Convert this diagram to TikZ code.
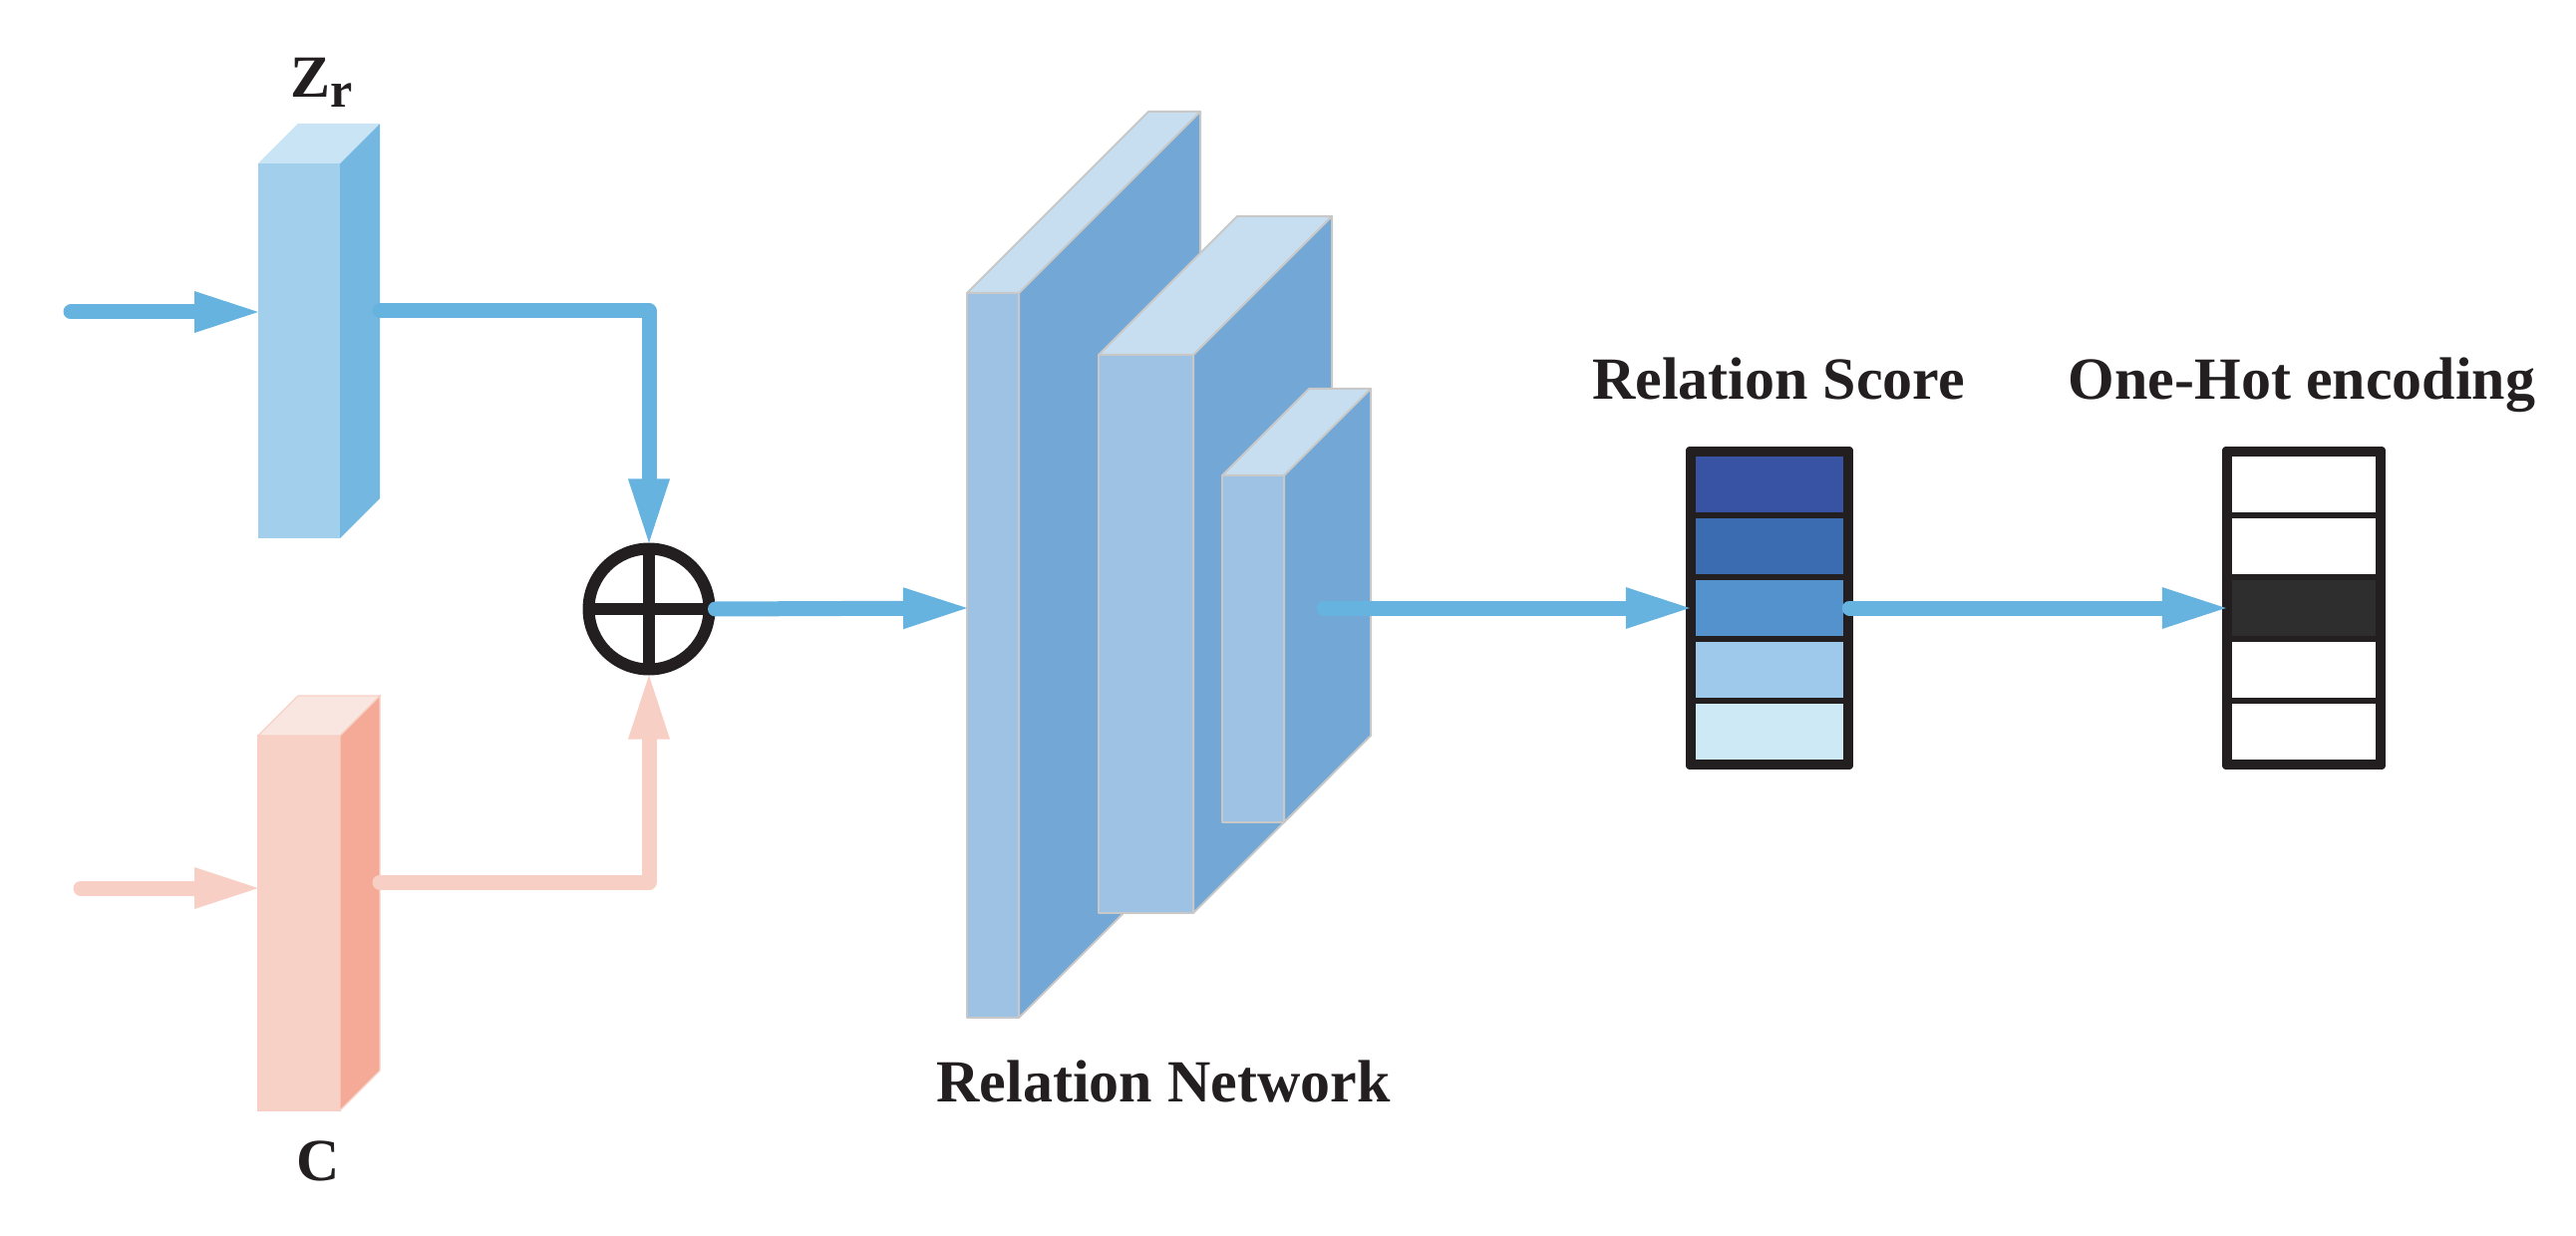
\documentclass[tikz,border=0pt]{standalone}
\usepackage{fontspec}
\setmainfont{Liberation Serif}
\usetikzlibrary{arrows.meta}
\definecolor{ink}{HTML}{231F20}
\definecolor{flowblue}{HTML}{66B3DF}
\definecolor{flowpink}{HTML}{F8CFC4}
\definecolor{zrfront}{HTML}{A1CFEC}
\definecolor{zrside}{HTML}{74B8E2}
\definecolor{zrtop}{HTML}{C9E4F5}
\definecolor{cfront}{HTML}{F7D0C6}
\definecolor{cside}{HTML}{F5AA98}
\definecolor{ctop}{HTML}{FAE6E0}
\definecolor{rnfront}{HTML}{9DC2E3}
\definecolor{rnside}{HTML}{72A7D6}
\definecolor{rntop}{HTML}{C7DEF0}
\definecolor{rnedge}{HTML}{C8C8C8}
\definecolor{scA}{HTML}{3953A4}
\definecolor{scB}{HTML}{3B6BB0}
\definecolor{scC}{HTML}{5392CD}
\definecolor{scD}{HTML}{9FC9EA}
\definecolor{scE}{HTML}{CDE9F6}
\definecolor{hotcell}{HTML}{2F2E2F}
\newcommand{\prismbox}[7]{%
  \path[fill=#6front,#7] (#1,#2) rectangle (#3,#4);
  \path[fill=#6side,#7] (#3,#2) -- (#3+#5,#2-#5) -- (#3+#5,#4-#5) -- (#3,#4) -- cycle;
  \path[fill=#6top,#7] (#1,#2) -- (#1+#5,#2-#5) -- (#3+#5,#2-#5) -- (#3,#2) -- cycle;
}
\begin{document}
\begin{tikzpicture}[x=0.5pt,y=-0.5pt,
  flow/.style={line width=7.5pt, line cap=round, line join=round,
    -{Triangle[length=32pt,width=21pt,line width=0pt]}},
  lbl/.style={font=\fontsize{30pt}{36pt}\selectfont\bfseries, inner sep=0pt, anchor=base, text=ink},
  cell/.style={draw=ink, line width=3.25pt, minimum width=77pt, minimum height=31pt, inner sep=0pt},
  hcell/.style={cell, minimum width=75pt},
  edge/.style={draw=rnedge, line width=1pt, line join=round}]
\useasboundingbox (0,0) rectangle (2584,1240);

% input blocks
\prismbox{259}{164}{341}{540}{40}{zr}{}
\prismbox{259}{738}{341}{1114}{40}{c}{draw=flowpink, line width=0.6pt}

\node[lbl] (zrlab) at (323,98) {Z\raisebox{-5pt}{\fontsize{25pt}{30pt}\selectfont r}};
\node[lbl] (clab) at (319,1184) {C};

\coordinate (zrin) at (71,313);
\coordinate (zrW) at (259,313);
\coordinate (zrE) at (381,312);
\coordinate (cin) at (81,891);
\coordinate (cW) at (259,891);
\coordinate (cE) at (381,885);

\draw[flow, flowblue] (zrin) -- (zrW);
\draw[flow, flowpink] (cin) -- (cW);

% concatenation
\node[circle, draw=ink, line width=6pt, minimum size=60.5pt, inner sep=0pt] (plus) at (651,611) {};
\draw[ink, line width=6pt] (plus.center) ++(0,-60) -- ++(0,120);
\draw[ink, line width=6pt] (plus.center) ++(-60,0) -- ++(120,0);

\draw[flow, flowblue] (zrE) -| (plus.north);
\draw[flow, flowpink] (cE) -| (plus.south);

% relation network
\prismbox{970}{294}{1022}{1021}{182}{rn}{edge}
\prismbox{1102}{356}{1197}{916}{139}{rn}{edge}
\prismbox{1226}{477}{1288}{825}{87}{rn}{edge}
\coordinate (rnW) at (970,610);
\coordinate (rnout) at (1328,610);
\node[lbl] (rnlab) at (1167,1105) {Relation Network};

\draw[flow, flowblue] (plus.east) -- (rnW);

% relation score
\node[cell, fill=scA] (rs1) at (1775,486) {};
\node[cell, fill=scB] (rs2) at (1775,548) {};
\node[cell, fill=scC] (rs3) at (1775,610) {};
\node[cell, fill=scD] (rs4) at (1775,672) {};
\node[cell, fill=scE] (rs5) at (1775,734) {};
\draw[ink, line width=3.5pt, line join=round] (rs1.north west) rectangle (rs5.south east);
\node[lbl] (rslab) at (1784,401) {Relation Score};

% one-hot
\node[hcell, fill=white] (oh1) at (2311,486) {};
\node[hcell, fill=white] (oh2) at (2311,548) {};
\node[hcell, fill=hotcell] (oh3) at (2311,610) {};
\node[hcell, fill=white] (oh4) at (2311,672) {};
\node[hcell, fill=white] (oh5) at (2311,734) {};
\draw[ink, line width=3.5pt, line join=round] (oh1.north west) rectangle (oh5.south east);
\node[lbl] (ohlab) at (2309,401) {One-Hot encoding};

\draw[flow, flowblue] (rnout) -- (rs3.west);
\draw[flow, flowblue] (rs3.east) -- (oh3.west);
\end{tikzpicture}
\end{document}
